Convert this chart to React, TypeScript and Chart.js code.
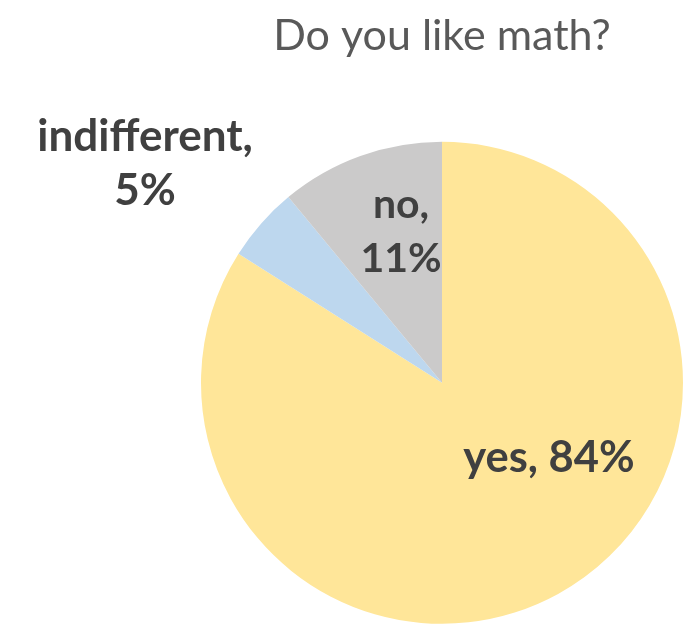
import React, { useEffect, useRef } from "react";
import { Chart, registerables } from "chart.js";

Chart.register(...registerables);

const TITLE = "Do you like math?";
const CATEGORIES = ["yes", "indifferent", "no"];
const VALUES = [84, 5, 11];
const COLORS = ["#FFE699", "#BDD7EE", "#CBCACA"];
// label anchors relative to pie centre, as fractions of radius
const LABEL_DX = [0.444, -1.232, -0.17];
const LABEL_DY = [0.31, -0.91, -0.627];
const LABEL_SPLIT = [false, true, true];
const LABEL_SIZE = [43.5, 44, 41];

const labelPlugin = {
  id: "sliceLabels",
  afterDatasetsDraw(chart: any) {
    const meta = chart.getDatasetMeta(0);
    const ctx = chart.ctx;
    ctx.save();
    ctx.fillStyle = "#404040";
    ctx.textAlign = "center";
    ctx.textBaseline = "middle";
    meta.data.forEach((arc: any, i: number) => {
      const { x, y, outerRadius } = arc.getProps(["x", "y", "outerRadius"], true);
      const cx = x + LABEL_DX[i] * outerRadius;
      const cy = y + LABEL_DY[i] * outerRadius;
      const size = LABEL_SIZE[i];
      ctx.font = `bold ${size}px Lato`;
      const pct = `${VALUES[i]}%`;
      if (LABEL_SPLIT[i]) {
        const lh = 54;
        ctx.fillText(`${CATEGORIES[i]},`, cx, cy - lh / 2);
        ctx.fillText(pct, cx, cy + lh / 2);
      } else {
        ctx.fillText(`${CATEGORIES[i]}, ${pct}`, cx, cy);
      }
    });
    ctx.restore();
  },
};

export default function App() {
  const ref = useRef<HTMLCanvasElement>(null);
  useEffect(() => {
    if (!ref.current) return;
    const chart = new Chart(ref.current, {
      type: "pie",
      data: {
        labels: CATEGORIES,
        datasets: [
          {
            data: VALUES,
            backgroundColor: COLORS,
            borderWidth: 0,
          },
        ],
      },
      options: {
        animation: false,
        responsive: false,
        layout: { padding: { left: 201, right: 1, top: 0, bottom: 0 } },
        plugins: {
          legend: { display: false },
          tooltip: { enabled: false },
          title: {
            display: true,
            text: TITLE,
            color: "#595959",
            font: { family: "Lato", size: 43, weight: "normal" },
            padding: { top: 10, bottom: 80 },
          },
        },
      },
      plugins: [labelPlugin],
    });
    return () => chart.destroy();
  }, []);
  return (
    <div style={{ position: "fixed", left: 0, top: 0, width: 684, height: 624, background: "#fff" }}>
      <canvas ref={ref} width={684} height={624} />
    </div>
  );
}
